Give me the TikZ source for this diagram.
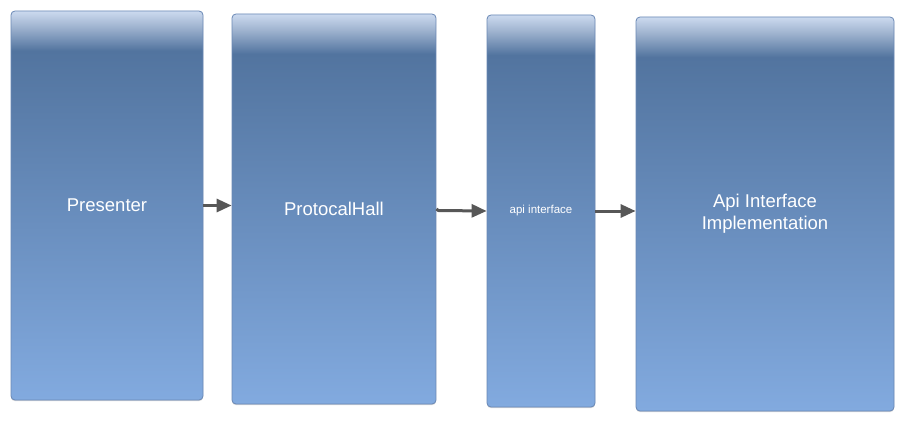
\documentclass[tikz,border=0pt]{standalone}
\usepackage{fontspec}
\setmainfont{Liberation Sans}
\usetikzlibrary{arrows.meta,shadows}
\definecolor{topc}{HTML}{CCDAEF}
\definecolor{upc}{HTML}{A0B4D0}
\definecolor{midc}{HTML}{52749F}
\definecolor{botc}{HTML}{82AADF}
\definecolor{bordc}{HTML}{6A88B5}
\definecolor{arrc}{HTML}{575757}
\pgfdeclareverticalshading{boxshade}{100bp}{color(0bp)=(botc); color(25bp)=(botc); color(69.9bp)=(midc); color(73bp)=(upc); color(75bp)=(topc); color(100bp)=(topc)}
\tikzset{
  box/.style={draw=bordc, line width=0.8pt, rounded corners=4pt, inner sep=0pt,
    text=white, align=center, font=\fontsize{18.5}{22}\selectfont,
    shading=boxshade,
    drop shadow={shadow xshift=0pt, shadow yshift=-1.2pt, opacity=0.25, fill=black!60}},
  arr/.style={draw=arrc, line width=3pt, -{Triangle[length=15pt,width=13pt]}}
}
\begin{document}
\begin{tikzpicture}[x=1pt,y=1pt]
\useasboundingbox[fill=white] (0,0) rectangle (904,421);
\node[box, minimum width=192pt, minimum height=389pt] (b1) at (107,215.5) {Presenter};
\node[box, minimum width=204pt, minimum height=390pt] (b2) at (334,212) {ProtocalHall};
\node[box, minimum width=108pt, minimum height=392pt, font=\fontsize{11.5}{13}\selectfont] (b3) at (541,210) {api interface};
\node[box, minimum width=258pt, minimum height=394pt] (b4) at (765,207) {Api Interface\\Implementation};
\draw[arr] (b1.east) -- (b1.east -| b2.west);
\draw[arr] (b2.east) -- ++(2,-1.5) -- (b3.west);
\draw[arr] (b3.east) -- (b3.east -| b4.west);
\end{tikzpicture}
\end{document}
